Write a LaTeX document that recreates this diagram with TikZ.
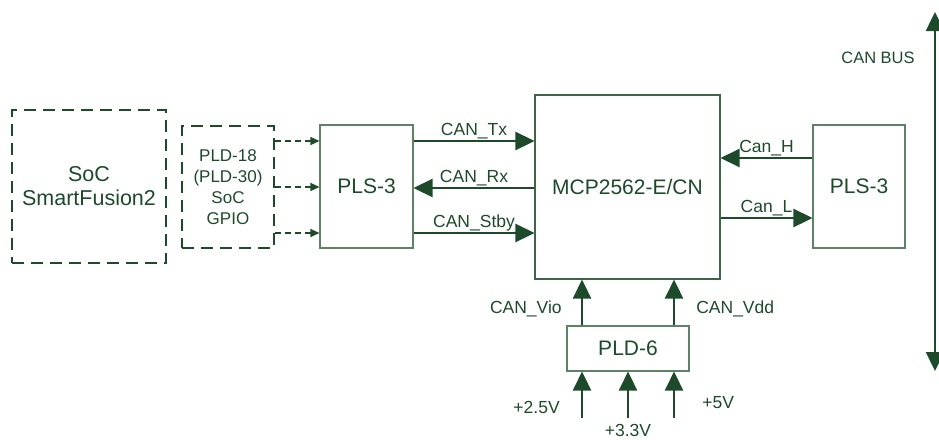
\documentclass[tikz,border=0pt]{standalone}
\usepackage{fontspec}
\setmainfont{Liberation Sans}
\usetikzlibrary{arrows.meta,calc,positioning}
\definecolor{dkgreen}{HTML}{1C4A2A}
\definecolor{boxgreen}{HTML}{5E8266}

\begin{document}
\begin{tikzpicture}[x=1pt,y=-1pt,
    font=\fontsize{17.5}{20}\selectfont, text=dkgreen,
    blk/.style={draw=boxgreen,line width=1.1pt,fill=white,inner sep=0pt},
    dbox/.style={draw=dkgreen,line width=2.6pt,dash pattern=on 12pt off 7pt,inner sep=0pt,align=center},
    sig/.style={draw=dkgreen,line width=2.6pt,-{Triangle[length=19pt,width=18pt]}},
    dsh/.style={draw=dkgreen,line width=1.2pt,dash pattern=on 6pt off 4pt,-{Triangle[length=9pt,width=8pt]}},
    lbl/.style={inner sep=1pt}]
  \useasboundingbox (0,0) rectangle (939,439);
  \node[dbox,minimum width=154pt,minimum height=153pt,font=\fontsize{21.5}{24}\selectfont] (soc) at (89,186.5) {SoC\\SmartFusion2};
  \node[dbox,minimum width=92pt,minimum height=122pt,font=\fontsize{17}{21}\selectfont] (gpio) at (228,187) {PLD-18\\(PLD-30)\\SoC\\GPIO};
  \node[blk,minimum width=93pt,minimum height=123pt,font=\fontsize{21}{24}\selectfont] (plsA) at (366.5,186.5) {PLS-3};
  \node[blk,draw=dkgreen!85!white,minimum width=185pt,minimum height=184pt,font=\fontsize{21}{24}\selectfont] (mcp) at (627.5,187) {MCP2562-E/CN};
  \node[blk,minimum width=92pt,minimum height=123pt,font=\fontsize{21}{24}\selectfont] (plsB) at (859,186.5) {PLS-3};
  \node[blk,minimum width=122pt,minimum height=45pt,font=\fontsize{21}{24}\selectfont] (pld) at (628,348.5) {PLD-6};
  \coordinate (v25) at (582,418);
  \coordinate (v33) at (628,418);
  \coordinate (v50) at (674,418);
  \coordinate (bustop) at (935,12);
  \coordinate (busbot) at (935,371);

  \draw[dsh] (gpio.east |- 0,141) -- (plsA.west |- 0,141);
  \draw[dsh] (gpio.east |- 0,187) -- (plsA.west |- 0,187);
  \draw[dsh] (gpio.east |- 0,233) -- (plsA.west |- 0,233);

  \draw[sig] (plsA.east |- 0,141) -- node[lbl,above] {CAN\_Tx} (mcp.west |- 0,141);
  \draw[sig] (mcp.west |- 0,188) -- node[lbl,above] {CAN\_Rx} (plsA.east |- 0,188);
  \draw[sig] (plsA.east |- 0,233) -- node[lbl,above] {CAN\_Stby} (mcp.west |- 0,233);
  \draw[sig] (plsB.west |- 0,158) -- node[lbl,above] {Can\_H} (mcp.east |- 0,158);
  \draw[sig] (mcp.east |- 0,218) -- node[lbl,above] {Can\_L} (plsB.west |- 0,218);

  \draw[sig] (pld.north -| 582,0) -- node[lbl,pos=0.35,left=18pt] {CAN\_Vio} (mcp.south -| 582,0);
  \draw[sig] (pld.north -| 674,0) -- node[lbl,pos=0.35,right=20pt] {CAN\_Vdd} (mcp.south -| 674,0);

  \draw[sig] (v25) -- (pld.south -| v25) node[lbl,pos=0.22,left=20pt] {+2.5V};
  \draw[sig] (v33) -- (pld.south -| v33) node[lbl,pos=0,below=4pt] {+3.3V};
  \draw[sig] (v50) -- (pld.south -| v50) node[lbl,pos=0.33,right=26pt] {+5V};

  \draw[sig,{Triangle[length=19pt,width=18pt]}-{Triangle[length=19pt,width=18pt]}] (busbot) -- (bustop);
  \node[font=\fontsize{16.5}{19}\selectfont] (busl) at (878,58) {CAN BUS};
\end{tikzpicture}
\end{document}
